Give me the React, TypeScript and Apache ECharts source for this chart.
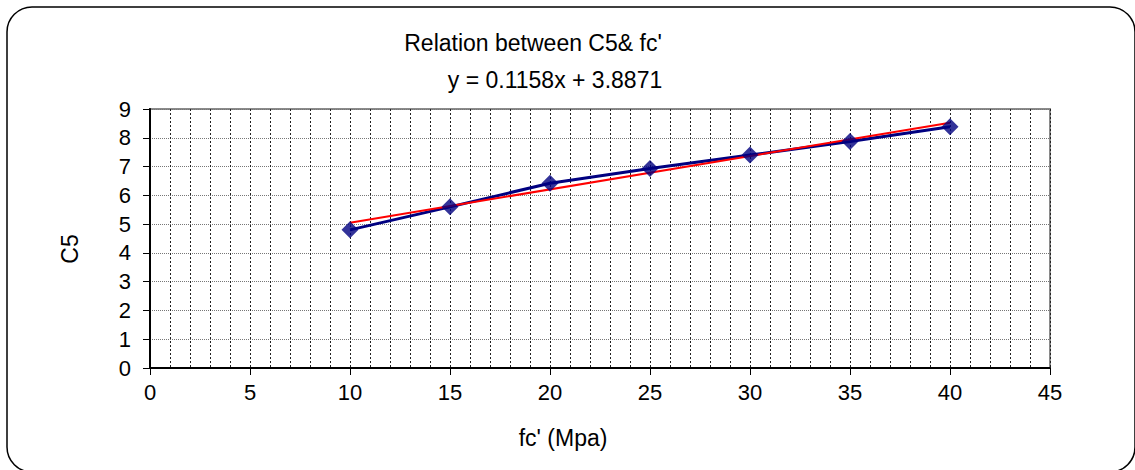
import React, { useEffect, useRef } from "react";
import * as echarts from "echarts";

const xValues = [10, 15, 20, 25, 30, 35, 40];
const c5Values = [4.8, 5.6, 6.42, 6.93, 7.4, 7.87, 8.38];
const trendX = [10, 40];
const trendY = [5.05, 8.52];
const titleText = "Relation between C5& fc'";
const equationText = "y = 0.1158x + 3.8871";
const xName = "fc' (Mpa)";
const yName = "C5";

const FONT = "'Liberation Sans', Arial, sans-serif";

export default function App() {
  const ref = useRef<HTMLDivElement>(null);
  useEffect(() => {
    const chart = echarts.init(ref.current!, null, { renderer: "svg" });
    const txt = (text: string, x: number, y: number, rotation = 0) => ({
      type: "text",
      x,
      y,
      rotation,
      style: {
        text,
        fill: "#000",
        fontSize: 23,
        fontFamily: FONT,
        textAlign: "center",
        textVerticalAlign: "middle",
      },
    });
    chart.setOption({
      animation: false,
      backgroundColor: "#fff",
      textStyle: { fontFamily: FONT },
      grid: {
        left: 150,
        right: 85,
        top: 109,
        bottom: 102,
        show: true,
        borderColor: "#8a8a8a",
        borderWidth: 2,
        backgroundColor: "#fff",
      },
      xAxis: {
        type: "value",
        min: 0,
        max: 45,
        interval: 5,
        axisLine: { show: true, onZero: false, lineStyle: { color: "#000", width: 2 } },
        axisTick: { show: true, length: 7, lineStyle: { color: "#000", width: 1 } },
        axisLabel: { color: "#000", fontSize: 22, fontFamily: FONT, margin: 13 },
        splitLine: { show: true, lineStyle: { color: "#222", width: 1, type: [2, 2] } },
        minorTick: { show: false, splitNumber: 5 },
        minorSplitLine: { show: true, lineStyle: { color: "#222", width: 1, type: [2, 2] } },
      },
      yAxis: {
        type: "value",
        min: 0,
        max: 9,
        interval: 1,
        axisLine: { show: true, onZero: false, lineStyle: { color: "#000", width: 2 } },
        axisTick: { show: true, length: 7, lineStyle: { color: "#000", width: 1 } },
        axisLabel: { color: "#000", fontSize: 22, fontFamily: FONT, margin: 19 },
        splitLine: { show: true, lineStyle: { color: "#777", width: 1, type: [1, 1] } },
      },
      series: [
        {
          type: "line",
          data: xValues.map((x, i) => [x, c5Values[i]]),
          showSymbol: false,
          symbol: "none",
          lineStyle: { color: "#000080", width: 3 },
          z: 2,
        },
        {
          type: "line",
          data: trendX.map((x, i) => [x, trendY[i]]),
          symbol: "none",
          lineStyle: { color: "#ff0000", width: 2 },
          z: 3,
        },
        {
          type: "scatter",
          data: xValues.map((x, i) => [x, c5Values[i]]),
          symbol: "diamond",
          symbolSize: 17,
          itemStyle: { color: "#000080" },
          z: 4,
        },
      ],
      graphic: [
        {
          type: "rect",
          shape: { x: 7, y: 7, width: 1128, height: 465, r: 25 },
          style: { fill: "none", stroke: "#000", lineWidth: 1.5 },
          z: 100,
        },
        txt(titleText, 533, 43),
        txt(equationText, 555, 80),
        txt(xName, 563, 438),
        txt(yName, 70, 249, Math.PI / 2),
      ],
    });
    return () => chart.dispose();
  }, []);
  return (
    <div
      ref={ref}
      style={{ position: "fixed", left: 0, top: 0, width: 1135, height: 470 }}
    />
  );
}
